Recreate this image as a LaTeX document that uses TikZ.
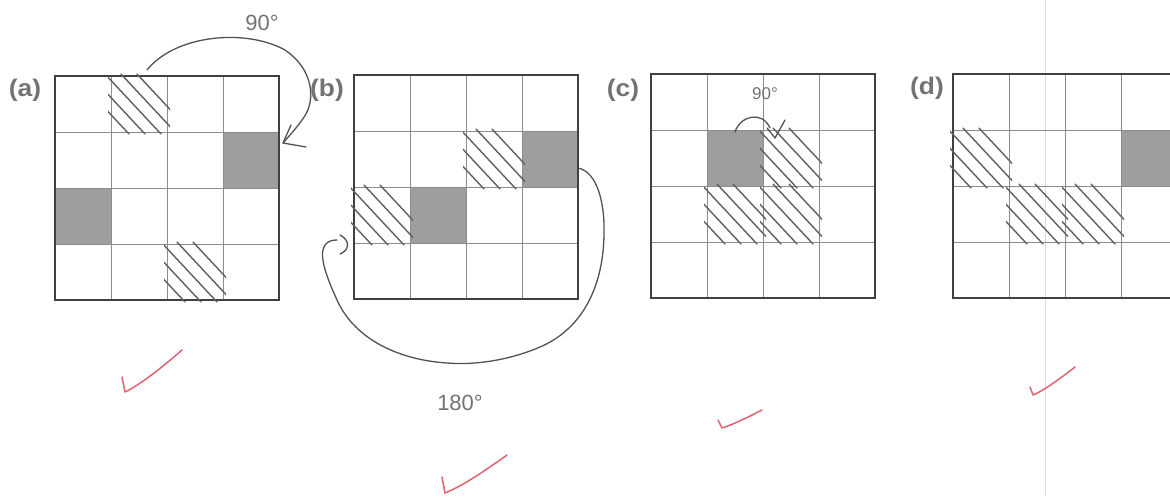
\documentclass[tikz,border=0pt]{standalone}
\usepackage{fontspec}
\setmainfont{Liberation Sans}
\usetikzlibrary{calc}
\definecolor{tickred}{RGB}{222,100,115}
\definecolor{margin}{RGB}{232,214,216}
\newcommand{\shadecell}[4]{\fill[cellgray] ({#1+#3*56},{#2+#4*56}) rectangle +(56,56);}
\newcommand{\hatchcell}[4]{%
  \begin{scope}
    \clip ({#1+#3*56-3},{#2+#4*56-3}) rectangle +(62,62);
    \foreach \s in {-38,-22,-6,10,26} \draw[hatchline] ({#1+#3*56+\s},{#2+#4*56-2}) -- +(56,60);
  \end{scope}}
\newcommand{\gridat}[3]{%
  \foreach \i in {1,2,3} {
    \draw[inner] ({#2+\i*56},#3) -- +(0,224);
    \draw[inner] (#2,{#3+\i*56}) -- +(224,0);
  }
  \node[outer, anchor=north west] (#1) at (#2,#3) {};}
\colorlet{cellgray}{black!38}
\begin{document}
\begin{tikzpicture}[x=1pt,y=-1pt,
  outer/.style={draw=black!75, line width=2.2pt, minimum width=224pt, minimum height=224pt, inner sep=0pt, outer sep=0pt},
  inner/.style={draw=black!45, line width=1pt},
  hatchline/.style={draw=black!62, line width=1.4pt, line cap=round},
  hand/.style={draw=black!68, line width=1.3pt, line cap=round, line join=round},
  tick/.style={draw=tickred, line width=1.5pt, line cap=round, line join=round},
  lab/.style={font=\bfseries\fontsize{24}{24}\selectfont, text=black!55, xscale=1.1, inner sep=0pt},
  handtxt/.style={font=\fontsize{22}{22}\selectfont, text=black!55, inner sep=0pt}]
\clip (0,0) rectangle (1170,496);
\fill[white] (0,0) rectangle (1170,496);
% notebook margin line
\draw[margin, line width=1pt] (1045,0) -- (1045,496);

% shaded cells
\shadecell{55}{76}{3}{1}
\shadecell{55}{76}{0}{2}
\shadecell{354}{75}{3}{1}
\shadecell{354}{75}{1}{2}
\shadecell{651}{74}{1}{1}
\shadecell{953}{74}{3}{1}

% grids
\gridat{ga}{55}{76}
\gridat{gb}{354}{75}
\gridat{gc}{651}{74}
\gridat{gd}{953}{74}

% hatched cells
\hatchcell{55}{76}{1}{0}
\hatchcell{55}{76}{2}{3}
\hatchcell{354}{75}{2}{1}
\hatchcell{354}{75}{0}{2}
\hatchcell{651}{74}{2}{1}
\hatchcell{651}{74}{1}{2}
\hatchcell{651}{74}{2}{2}
\hatchcell{953}{74}{0}{1}
\hatchcell{953}{74}{1}{2}
\hatchcell{953}{74}{2}{2}

% labels
\node[lab] (la) at (25,90) {(a)};
\node[lab] (lb) at (327,90) {(b)};
\node[lab] (lc) at (623,90) {(c)};
\node[lab] (ld) at (927,88) {(d)};

% 90 degree arrow on (a)
\coordinate (a1) at ($(ga.north west)+(92,-6)$);
\coordinate (a2) at ($(ga.east)+(4,-45)$);
\draw[hand] (a1) .. controls (175,35) and (245,28) .. (285,50)
  .. controls (312,68) and (318,100) .. (302,120)
  .. controls (295,130) and (288,137) .. (a2);
\draw[hand] ($(a2)+(8,-18)$) -- (a2) -- ($(a2)+(23,4)$);
\node[handtxt] (t90a) at (262,23) {90°};

% 180 degree arrow on (b)
\coordinate (b1) at ($(gb.east)+(0,-19)$);
\coordinate (b2) at (337,240);
\draw[hand] (b1) .. controls (598,172) and (605,205) .. (604,235)
  .. controls (603,290) and (580,330) .. (540,347)
  .. controls (505,362) and (470,365) .. (447,363)
  .. controls (400,360) and (355,340) .. (337,300)
  .. controls (327,278) and (318,255) .. (325,245)
  .. controls (328,241) and (332,240) .. (b2);
\draw[hand] (340,235) .. controls (350,240) and (350,250) .. (340,254);
\node[handtxt] (t180) at (460,403) {180°};

% 90 degree arrow on (c)
\coordinate (c1) at (735,132);
\coordinate (c2) at (775,138);
\draw[hand] (c1) .. controls (740,116) and (762,110) .. (770,128);
\draw[hand] (767,128) -- (c2) -- (785,120);
\node[handtxt, font=\fontsize{17}{17}\selectfont] (t90c) at (765,94) {90°};

% red check marks
\draw[tick] (122,377) -- (125,392) .. controls (140,385) and (165,365) .. (182,350);
\draw[tick] (442,477) -- (445,493) .. controls (465,485) and (490,467) .. (507,455);
\draw[tick] (718,420) -- (722,428) .. controls (735,424) and (750,416) .. (762,410);
\draw[tick] (1030,387) -- (1033,395) .. controls (1045,390) and (1062,377) .. (1075,367);
\end{tikzpicture}
\end{document}
